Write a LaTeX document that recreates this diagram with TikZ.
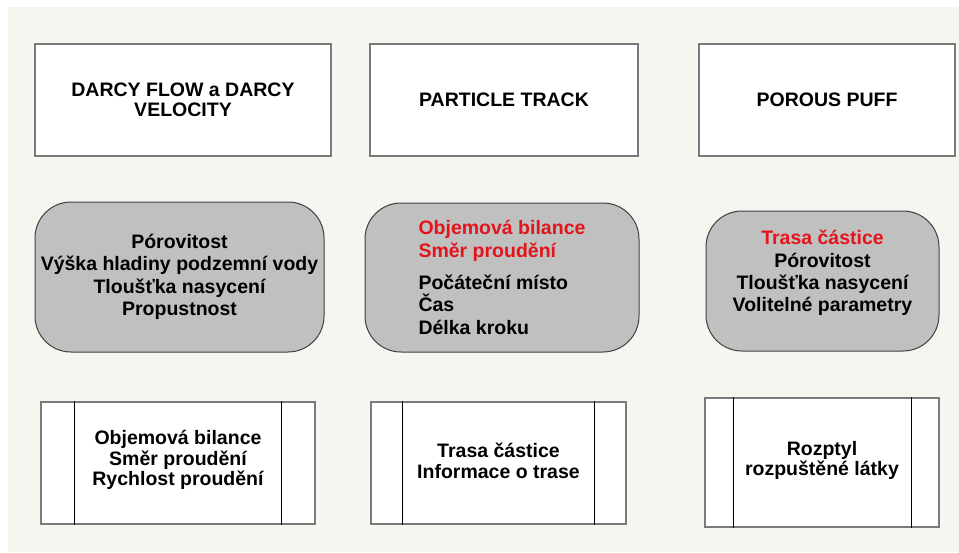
\documentclass[tikz,border=0pt]{standalone}
\usepackage{fontspec}
\setmainfont{Liberation Sans}
\usepackage{xcolor}
\usetikzlibrary{positioning, calc}

\definecolor{paper}{HTML}{F7F5EF}
\definecolor{rimgray}{HTML}{7A7A7A}
\definecolor{inputgray}{HTML}{C0C0C0}
\definecolor{linkred}{HTML}{E3141B}

\begin{document}
\begin{tikzpicture}[
    x=1pt, y=-1pt,
    tool/.style={draw=rimgray, line width=1.6pt, rectangle, fill=white, align=center, inner sep=0pt, minimum height=112pt, font=\fontsize{19.5}{20.5}\selectfont\bfseries},
    inputs/.style={draw=black!75, line width=1pt, rectangle, rounded corners=36pt, fill=inputgray, align=center, inner sep=0pt, font=\fontsize{19.5}{22.3}\selectfont\bfseries},
    outputs/.style={draw=rimgray, line width=1.6pt, rectangle, fill=white, align=center, inner sep=0pt, font=\fontsize{19.5}{20.7}\selectfont\bfseries},
    side/.style={draw=black, line width=0.9pt}
]
    \useasboundingbox (0,0) rectangle (959,552);
    \fill[paper] (8,7) rectangle (959,552);

    % --- Modules (top row) ---
    \node[tool, minimum width=296pt] (darcy) at (183, 100) {DARCY FLOW a DARCY\\VELOCITY};
    \node[tool, minimum width=268pt] (track) at (504, 100) {PARTICLE TRACK};
    \node[tool, minimum width=256pt] (puff) at (827, 100) {POROUS PUFF};

    % --- Inputs (middle row) ---
    \node[inputs, minimum width=289pt, minimum height=150pt] (in1) at (179.5, 277) {P\'orovitost\\V\'y\v{s}ka hladiny podzemn\'i vody\\Tlou\v{s}\v{t}ka nasycen\'i\\Propustnost};
    \node[inputs, minimum width=274pt, minimum height=149pt, align=left] (in2) at (502, 277.5) {\textcolor{linkred}{Objemov\'a bilance}\\\textcolor{linkred}{Sm\v{e}r proud\v{e}n\'i}\\[10pt]Po\v{c}\'ate\v{c}n\'i m\'isto\\\v{C}as\\D\'elka kroku};
    \node[inputs, minimum width=233pt, minimum height=140pt, text depth=20pt] (in3) at (822.5, 281) {\textcolor{linkred}{Trasa \v{c}\'astice}\\P\'orovitost\\Tlou\v{s}\v{t}ka nasycen\'i\\Voliteln\'e parametry};

    % --- Outputs (bottom row) ---
    \node[outputs, minimum width=274pt, minimum height=122pt, text depth=10pt] (out1) at (178, 463) {Objemov\'a bilance\\Sm\v{e}r proud\v{e}n\'i\\Rychlost proud\v{e}n\'i};
    \node[outputs, minimum width=255pt, minimum height=122pt, text depth=4pt] (out2) at (498.5, 463) {Trasa \v{c}\'astice\\Informace o trase};
    \node[outputs, minimum width=234pt, minimum height=129pt, text depth=8pt] (out3) at (822, 462.5) {Rozptyl\\rozpu\v{s}t\v{e}n\'e l\'atky};

    \draw[side] ([xshift=34pt]out1.north west) -- ([xshift=34pt]out1.south west);
    \draw[side] ([xshift=-34pt]out1.north east) -- ([xshift=-34pt]out1.south east);
    \draw[side] ([xshift=32pt]out2.north west) -- ([xshift=32pt]out2.south west);
    \draw[side] ([xshift=-32pt]out2.north east) -- ([xshift=-32pt]out2.south east);
    \draw[side] ([xshift=29pt]out3.north west) -- ([xshift=29pt]out3.south west);
    \draw[side] ([xshift=-28pt]out3.north east) -- ([xshift=-28pt]out3.south east);
\end{tikzpicture}
\end{document}
